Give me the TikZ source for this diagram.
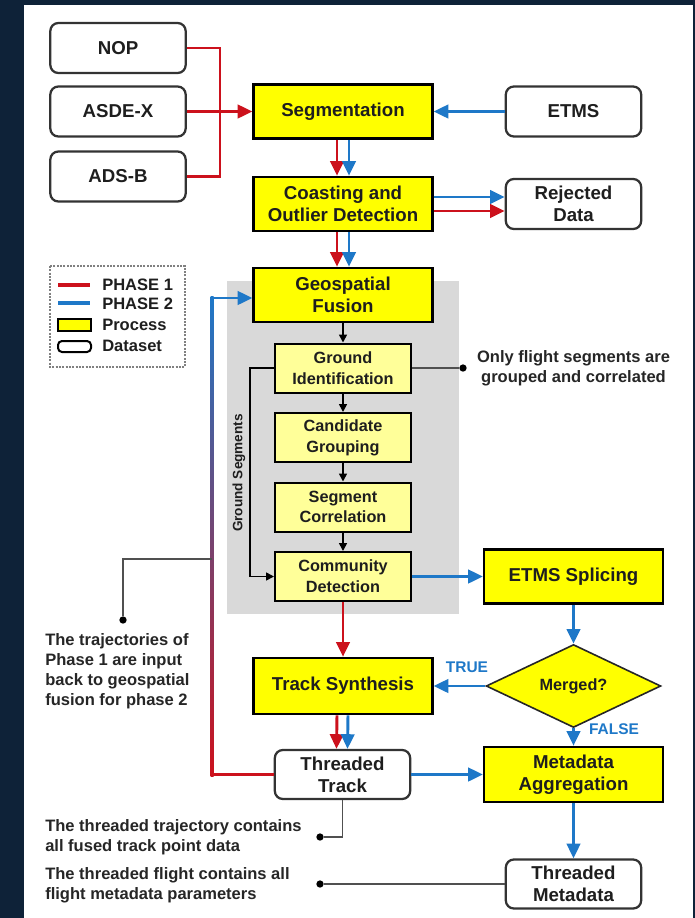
\documentclass[tikz,border=0pt]{standalone}
\usepackage{fontspec}
\setmainfont{Liberation Sans}
\usetikzlibrary{arrows.meta,shapes.geometric,calc}
\definecolor{navy}{RGB}{14,34,56}
\definecolor{pred}{RGB}{204,17,28}
\definecolor{pblue}{RGB}{30,120,200}
\definecolor{pyellow}{RGB}{255,255,0}
\definecolor{lyellow}{RGB}{255,255,153}
\definecolor{gbox}{RGB}{217,217,217}
\definecolor{txt}{RGB}{30,30,30}
\definecolor{ann}{RGB}{80,80,80}
\begin{document}
\begin{tikzpicture}[x=0.75pt,y=-0.75pt,
  every node/.style={font=\bfseries, text=txt, inner sep=0pt, align=center},
  proc/.style={draw=black, line width=1.9pt, fill=pyellow, minimum width=134pt, minimum height=40.5pt, font=\bfseries\fontsize{14}{16.5}\selectfont},
  sub/.style={draw=black, line width=1.5pt, fill=lyellow, minimum width=102pt, minimum height=36.75pt, font=\bfseries\fontsize{12.2}{15.5}\selectfont},
  data/.style={draw=black!80, line width=1.7pt, fill=white, rounded corners=6pt, minimum width=101.5pt, minimum height=37.5pt, font=\bfseries\fontsize{14}{16.5}\selectfont},
  note/.style={anchor=west, align=left, text=black!85, font=\bfseries\fontsize{12.4}{15}\selectfont},
  rarr/.style={draw=pred, line width=2.2pt, -{Triangle[length=11pt,width=10pt]}},
  barr/.style={draw=pblue, line width=2.2pt, -{Triangle[length=11pt,width=10pt]}},
  rline/.style={draw=pred, line width=2.2pt},
  karr/.style={draw=black, line width=1.2pt, -{Triangle[length=6pt,width=6pt]}},
  aline/.style={draw=ann, line width=1.2pt},
  dot/.style={circle, fill=black, minimum size=5.5pt, inner sep=0pt},
  lgtext/.style={anchor=west, font=\bfseries\fontsize{12.4}{15}\selectfont},
]
% background
\fill[navy] (0,0) rectangle (695,918);
\fill[white] (24,5) rectangle (693,918);

% legend
\draw[gray, line width=1.1pt, dash pattern=on 1.5pt off 1pt] (50,266) rectangle (185,367);
\draw[pred, line width=3pt] (58,285) -- (90,285);
\draw[pblue, line width=3pt] (58,303) -- (90,303);
\draw[black, line width=1.5pt, fill=pyellow] (58,319) rectangle (91,331);
\draw[black, line width=1.5pt, rounded corners=3pt] (58,341) rectangle (91,352);
\node[lgtext] (lg1) at (102,285) {PHASE 1};
\node[lgtext] (lg2) at (102,304) {PHASE 2};
\node[lgtext] (lg3) at (102,325) {Process};
\node[lgtext] (lg4) at (102,346) {Dataset};

% gray group
\fill[gbox] (227,281) rectangle (459,614);

% nodes
\node[data] (nop) at (118,48) {NOP};
\node[data] (asdex) at (118,111.5) {ASDE-X};
\node[data] (adsb) at (118,176.5) {ADS-B};
\node[data] (etms) at (573.5,111.5) {ETMS};
\node[proc] (seg) at (343,111.5) {Segmentation};
\node[proc] (co) at (343,204) {Coasting and\\Outlier Detection};
\node[data] (rj) at (573.5,204) {Rejected\\Data};
\node[proc] (geo) at (343,295) {Geospatial\\Fusion};
\node[sub] (gi) at (343,368) {Ground\\Identification};
\node[sub] (cg) at (343,437.5) {Candidate\\Grouping};
\node[sub] (sc) at (343,507) {Segment\\Correlation};
\node[sub] (cd) at (343,576.5) {Community\\Detection};
\node[proc] (es) at (573.5,576.5) {ETMS Splicing};
\node[proc, minimum height=42pt] (ts) at (343,686) {Track Synthesis};
\node[diamond, draw=black!85, line width=1.2pt, fill=pyellow, minimum width=131pt, minimum height=45.75pt, font=\bfseries\fontsize{12.2}{14}\selectfont] (mg) at (573.5,686) {Merged?};
\node[data, minimum height=36.75pt] (tt) at (342.5,774.5) {Threaded\\Track};
\node[proc, minimum height=41.25pt] (ma) at (573.5,774.5) {Metadata\\Aggregation};
\node[data, minimum height=36.75pt] (tm) at (573.5,884) {Threaded\\Metadata};

% inputs
\coordinate (jn) at (220,111.5);
\draw[rline] (nop.east) -| (jn);
\draw[rline] (adsb.east) -| (jn);
\draw[rarr] (asdex.east) -- (seg.west);
\draw[barr] (etms.west) -- (seg.east);

% phase pairs
\draw[rarr] ([xshift=-4.5pt]seg.south) -- ([xshift=-4.5pt]co.north);
\draw[barr] ([xshift=4.5pt]seg.south) -- ([xshift=4.5pt]co.north);
\draw[barr] ([yshift=5.25pt]co.east) -- ([yshift=5.25pt]rj.west);
\draw[rarr] ([yshift=-5.25pt]co.east) -- ([yshift=-5.25pt]rj.west);
\draw[rarr] ([xshift=-4.5pt]co.south) -- ([xshift=-4.5pt]geo.north);
\draw[barr] ([xshift=4.5pt]co.south) -- ([xshift=4.5pt]geo.north);

% inner chain
\draw[karr] (geo.south) -- (gi.north);
\draw[karr] (gi.south) -- (cg.north);
\draw[karr] (cg.south) -- (sc.north);
\draw[karr] (sc.south) -- (cd.north);
\coordinate (gs1) at (250,368);
\draw[karr] (gi.west) -- (gs1) |- (cd.west);
\node[rotate=90, font=\bfseries\fontsize{10.2}{12}\selectfont] (gslab) at (239,473) {Ground Segments};

% note right
\node[dot] (d1) at (463,368) {};
\draw[aline] (gi.east) -- (d1);
\node[text=black!85, font=\bfseries\fontsize{12.4}{15}\selectfont] (n1) at (573.5,368) {Only flight segments are\\grouped and correlated};

% lower flow
\draw[barr] (cd.east) -- (es.west);
\draw[rarr] (cd.south) -- (ts.north);
\draw[barr] (es.south) -- (mg.north);
\draw[barr] (mg.west) -- (ts.east);
\node[text=pblue, font=\bfseries\fontsize{11.6}{14}\selectfont] (tl) at (467,667) {TRUE};
\draw[barr] (mg.south) -- (ma.north);
\node[text=pblue, font=\bfseries\fontsize{11.6}{14}\selectfont] (fl) at (614,729) {FALSE};
\draw[rarr] ([xshift=-4.5pt]ts.south) -- ([xshift=-4.5pt]tt.north);
\draw[barr] ([xshift=3.75pt]ts.south) -- ([xshift=3.75pt]tt.north);
\draw[barr] (tt.east) -- (ma.west);
\draw[barr] (ma.south) -- (tm.north);

% feedback (phase 1 -> phase 2)
\coordinate (fbb) at (212,774.5);
\coordinate (fbt) at (212,298);
\coordinate (fbm) at (212,559);
\shade[top color=pblue, bottom color=pred] (210.5,296.6) rectangle (213.5,776);
\draw[rline] (tt.west) -- (fbb);
\draw[barr] (fbt) -- (fbt -| geo.west);

% notes left
\node[dot] (d2) at (123,620) {};
\draw[aline] (d2) |- (fbm);
\node[note] (n2) at (45,671) {The trajectories of\\Phase 1 are input\\back to geospatial\\fusion for phase 2};
\node[dot] (d3) at (320,837) {};
\draw[aline] (d3) -| (tt.south);
\node[note] (n3) at (45,837.5) {The threaded trajectory contains\\all fused track point data};
\node[dot] (d4) at (320,884) {};
\draw[aline] (d4) -- (tm.west);
\node[note] (n4) at (45,885) {The threaded flight contains all\\flight metadata parameters};
\end{tikzpicture}
\end{document}
